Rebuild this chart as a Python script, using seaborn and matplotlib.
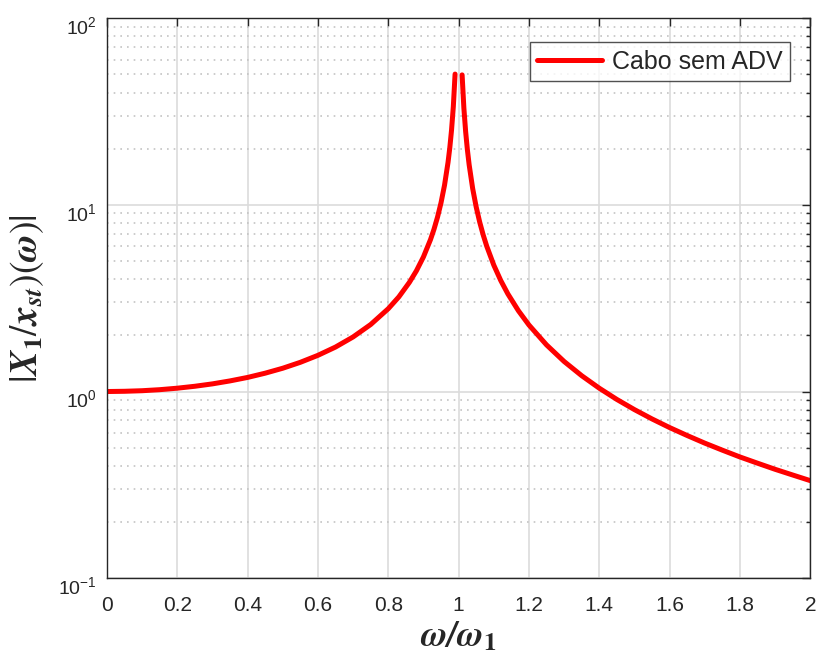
import numpy as np
import pandas as pd
import matplotlib
matplotlib.use("Agg")
import matplotlib.pyplot as plt
import matplotlib.transforms as mtransforms
import seaborn as sns

# values (frequency ratio vs. amplitude ratio)
x_left = [0.0, 0.05, 0.1, 0.15, 0.2, 0.25, 0.3, 0.35, 0.4, 0.45, 0.5, 0.55, 0.6,
          0.65, 0.7, 0.75, 0.8, 0.83, 0.86, 0.88, 0.9, 0.92, 0.93, 0.94, 0.95,
          0.96, 0.97, 0.975, 0.98, 0.985, 0.99]
y_left = [1.00, 1.003, 1.010, 1.023, 1.042, 1.067, 1.099, 1.140, 1.190, 1.254,
          1.333, 1.434, 1.563, 1.731, 1.961, 2.286, 2.778, 3.213, 3.844, 4.433,
          5.263, 6.510, 7.401, 8.591, 10.26, 12.76, 16.92, 20.25, 25.25, 33.58, 50.25]
x_right = [1.01, 1.015, 1.02, 1.025, 1.03, 1.04, 1.05, 1.06, 1.07, 1.08, 1.1, 1.12,
           1.14, 1.17, 1.2, 1.25, 1.3, 1.35, 1.4, 1.45, 1.5, 1.55, 1.6, 1.65, 1.7,
           1.75, 1.8, 1.85, 1.9, 1.95, 2.0]
y_right = [49.75, 33.08, 24.75, 19.75, 16.42, 12.25, 9.756, 8.091, 6.901, 6.010,
           4.762, 3.931, 3.338, 2.711, 2.273, 1.778, 1.449, 1.216, 1.042, 0.907,
           0.800, 0.713, 0.641, 0.581, 0.529, 0.485, 0.446, 0.413, 0.383, 0.357, 0.333]
x_ticks = [0, 0.2, 0.4, 0.6, 0.8, 1, 1.2, 1.4, 1.6, 1.8, 2]
x_tick_labels = ["0", "0.2", "0.4", "0.6", "0.8", "1", "1.2", "1.4", "1.6", "1.8", "2"]
series_name = "Cabo sem ADV"

sns.set_style("white")
plt.rcParams["font.family"] = ["Liberation Sans", "DejaVu Sans"]
plt.rcParams["mathtext.fontset"] = "stix"

left = pd.DataFrame({"w": x_left, "amp": y_left})
right = pd.DataFrame({"w": x_right, "amp": y_right})

fig = plt.figure(figsize=(8.16, 6.54), dpi=100)
ax = fig.add_axes([0.131, 0.116, 0.862, 0.856])

sns.lineplot(data=left, x="w", y="amp", color="#ff0000", linewidth=3.6,
             label=series_name, ax=ax, sort=False)
sns.lineplot(data=right, x="w", y="amp", color="#ff0000", linewidth=3.6,
             ax=ax, sort=False, legend=False)

ax.set_yscale("log")
ax.set_xlim(0, 2)
ax.set_ylim(0.1, 100)
ax.set_xticks(x_ticks)
ax.set_xticklabels(x_tick_labels)

ax.grid(True, which="major", color="#dcdcdc", linewidth=1.2, linestyle="-")
ax.grid(True, which="minor", axis="y", color="#c4c4c4", linewidth=1.2, linestyle=(0, (1, 3)))
ax.set_axisbelow(True)

ax.tick_params(which="both", direction="in", top=True, right=True,
               colors="#262626", labelcolor="#262626")
ax.tick_params(which="major", length=6, width=1)
ax.tick_params(which="minor", length=3, width=1)
ax.tick_params(axis="x", which="major", labelsize=15, pad=13)
ax.tick_params(axis="y", which="major", labelsize=14, pad=7)
ax.tick_params(axis="x", which="minor", top=False, bottom=False)
for s in ax.spines.values():
    s.set_color("#262626")
    s.set_linewidth(1.0)

# MATLAB puts the 10^n labels a little below their tick
shift = mtransforms.ScaledTranslation(0, -5 / 72, fig.dpi_scale_trans)
for lab in ax.get_yticklabels():
    lab.set_transform(lab.get_transform() + shift)

ax.set_xlabel(r"$\mathbfit{\omega/\omega}_{\mathbf{1}}$", fontsize=26,
              va="center", ha="center")
ax.set_ylabel(r"$|\mathbfit{X}_{\mathbf{1}}/\mathbfit{x}_{\mathbfit{st}})(\mathbfit{\omega})|$",
              fontsize=27, va="center", ha="center")
ax.xaxis.set_label_coords(0.5, -0.104)
ax.yaxis.set_label_coords(-0.113, 0.5)

leg = ax.legend(loc="upper right", fontsize=18, frameon=True, fancybox=False,
                borderpad=0.3, handlelength=2.6, handletextpad=0.4,
                borderaxespad=0, bbox_to_anchor=(0.9716, 0.957))
leg.get_frame().set_edgecolor("#262626")
leg.get_frame().set_linewidth(1.0)

fig.savefig("out.png", dpi=100)
